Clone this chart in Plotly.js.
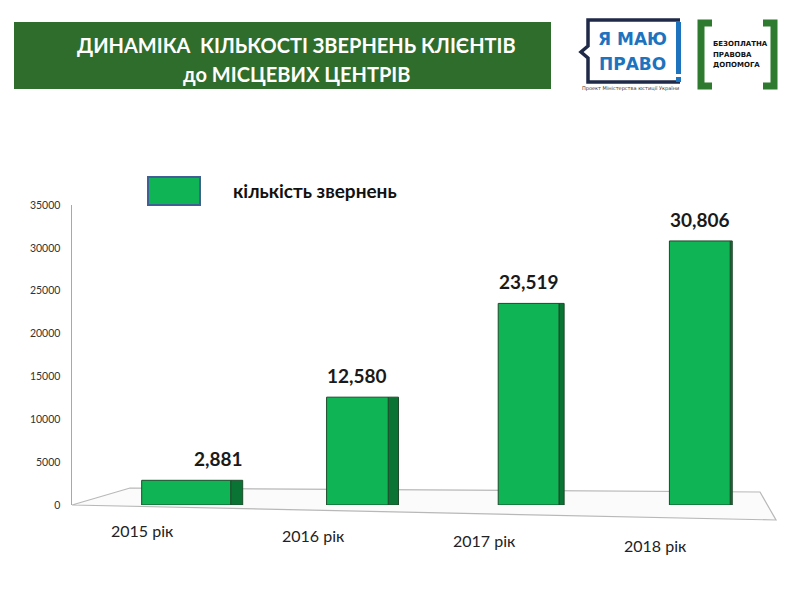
<!DOCTYPE html>
<html>
<head>
<meta charset="utf-8">
<script src="https://cdn.plot.ly/plotly-3.0.1.min.js"></script>
<style>html,body{margin:0;padding:0;background:#fff;}#chart{width:800px;height:600px;}</style>
</head>
<body>
<div id="chart"></div>
<script>
// ---- data ----
const categories = ["2015 рік", "2016 рік", "2017 рік", "2018 рік"];
const values = [2881, 12580, 23519, 30806];
const seriesName = "кількість звернень";
const titleLines = ["ДИНАМІКА  КІЛЬКОСТІ ЗВЕРНЕНЬ КЛІЄНТІВ", "до МІСЦЕВИХ ЦЕНТРІВ"];
const yTicks = [0, 5000, 10000, 15000, 20000, 25000, 30000, 35000];

// ---- layout helpers (pixel -> paper) ----
const L = 72, R = 30, T = 205, B = 95, W = 800, H = 600;
const pw = W - L - R, ph = H - T - B;
const px = p => (p - L) / pw;
const py = p => (H - B - p) / ph;

const idx = categories.map((c, i) => i);
const frontW = [0.52, 0.36, 0.355, 0.355];
const sideW = [0.07, 0.06, 0.03, 0.012];

const front = {
  type: "bar", x: idx, y: values, name: seriesName,
  width: frontW, offset: frontW.map(w => -w / 2),
  marker: { color: "#0fb454", line: { color: "#1d4a2a", width: 1 } },
  hoverinfo: "x+y", showlegend: false
};
const side = {
  type: "bar", x: idx, y: values, name: seriesName + " (side)",
  width: sideW, offset: frontW.map(w => w / 2),
  marker: { color: "#0a7434", line: { color: "#1d4a2a", width: 1 } },
  hoverinfo: "skip", showlegend: false
};

const shapes = [];
const annotations = [];
const A = o => Object.assign({ showarrow: false, xanchor: "center", yanchor: "middle" }, o);

// floor (3D base)
shapes.push({
  type: "path", xref: "paper", yref: "paper", layer: "below",
  path: `M ${px(72)} ${py(505)} L ${px(130)} ${py(488)} L ${px(760)} ${py(492)} L ${px(776)} ${py(520)} Z`,
  fillcolor: "#fbfbfb", line: { color: "#b8b8b8", width: 1.2 }
});

// title banner
shapes.push({ type: "rect", xref: "paper", yref: "paper", x0: px(14), x1: px(551), y0: py(22), y1: py(89),
  fillcolor: "#2e6d2c", line: { width: 0 } });
annotations.push(A({ xref: "paper", yref: "paper", x: px(296), y: py(45), text: "<b>" + titleLines[0] + "</b>",
  font: { family: "Lato, sans-serif", size: 20, color: "#ffffff" } }));
annotations.push(A({ xref: "paper", yref: "paper", x: px(296), y: py(74), text: "<b>" + titleLines[1] + "</b>",
  font: { family: "Lato, sans-serif", size: 20, color: "#ffffff" } }));

// logo 1: "Я МАЮ ПРАВО!"
const navy = "#1e2a48";
shapes.push({ type: "path", xref: "paper", yref: "paper",
  path: `M ${px(680)} ${py(20)} L ${px(588)} ${py(20)} L ${px(588)} ${py(46)} L ${px(581)} ${py(52)} L ${px(588)} ${py(58)} L ${px(588)} ${py(82)} L ${px(680)} ${py(82)}`,
  line: { color: navy, width: 3.5 } });
shapes.push({ type: "rect", xref: "paper", yref: "paper", x0: px(676), x1: px(681), y0: py(22), y1: py(74),
  fillcolor: "#1e73be", line: { width: 0 } });
shapes.push({ type: "rect", xref: "paper", yref: "paper", x0: px(676), x1: px(681), y0: py(77), y1: py(82),
  fillcolor: "#1e73be", line: { width: 0 } });
annotations.push(A({ xref: "paper", yref: "paper", x: px(632), y: py(39), text: "<b>Я МАЮ</b>",
  font: { family: "'DejaVu Sans', sans-serif", size: 17, color: "#1e73be" } }));
annotations.push(A({ xref: "paper", yref: "paper", x: px(632), y: py(64), text: "<b>ПРАВО</b>",
  font: { family: "'DejaVu Sans', sans-serif", size: 17, color: "#1e73be" } }));
annotations.push(A({ xref: "paper", yref: "paper", x: px(630), y: py(88), text: "Проект Міністерства юстиції України",
  font: { family: "'DejaVu Sans', sans-serif", size: 5, color: "#333" } }));

// logo 2: "БЕЗОПЛАТНА ПРАВОВА ДОПОМОГА"
const lg = "#2e7a2e";
shapes.push({ type: "path", xref: "paper", yref: "paper",
  path: `M ${px(712)} ${py(23)} L ${px(701)} ${py(23)} L ${px(701)} ${py(86)} L ${px(712)} ${py(86)}`,
  line: { color: lg, width: 7 } });
shapes.push({ type: "path", xref: "paper", yref: "paper",
  path: `M ${px(763)} ${py(23)} L ${px(774)} ${py(23)} L ${px(774)} ${py(86)} L ${px(763)} ${py(86)}`,
  line: { color: lg, width: 7 } });
["БЕЗОПЛАТНА", "ПРАВОВА", "ДОПОМОГА"].forEach((t, i) => {
  annotations.push(A({ xref: "paper", yref: "paper", x: px(711), y: py(44 + i * 10.5), xanchor: "left",
    text: "<b>" + t + "</b>",
    font: { family: "'DejaVu Sans', sans-serif", size: 7, color: "#111" } }));
});

// legend
shapes.push({ type: "rect", xref: "paper", yref: "paper", x0: px(148), x1: px(200), y0: py(205), y1: py(177),
  fillcolor: "#0fb454", line: { color: "#3f5f95", width: 2 } });
annotations.push(A({ xref: "paper", yref: "paper", x: px(231), y: py(190), xanchor: "left",
  text: "<b>" + seriesName + "</b>",
  font: { family: "Lato, sans-serif", size: 19, color: "#111" } }));

// value labels above bars
const valShiftX = [32, 0, 0, 0];
values.forEach((v, i) => {
  annotations.push(A({ x: i, y: v, xref: "x", yref: "y", yanchor: "bottom", yshift: 8, xshift: valShiftX[i],
    text: "<b>" + v.toLocaleString("en-US") + "</b>",
    font: { family: "Lato, 'Open Sans', sans-serif", size: 19, color: "#1a1a1a" } }));
});

// category labels (perspective offsets)
const labelShiftY = [25, 30, 35, 40];
categories.forEach((c, i) => {
  annotations.push(A({ x: i, xref: "x", yref: "paper", y: 0, xshift: -44,
    yshift: -labelShiftY[i], text: c,
    font: { family: "Lato, sans-serif", size: 16, color: "#222" } }));
});

const layout = {
  width: W, height: H,
  margin: { l: L, r: R, t: T, b: B, pad: 0 },
  paper_bgcolor: "#ffffff", plot_bgcolor: "rgba(0,0,0,0)",
  barmode: "overlay", showlegend: false,
  xaxis: { range: [-0.667, 3.41], showticklabels: false, showgrid: false, zeroline: false,
    showline: false, ticks: "", fixedrange: true },
  yaxis: { range: [0, 35000], tickvals: yTicks, ticktext: yTicks.map(String),
    showgrid: false, zeroline: false, showline: true, linecolor: "#a8a8a8", linewidth: 1.5,
    ticks: "", ticklabelstandoff: 8,
    tickfont: { family: "Lato, sans-serif", size: 10.5, color: "#333" } },
  shapes: shapes, annotations: annotations
};

Plotly.newPlot("chart", [side, front], layout, { displayModeBar: false, staticPlot: true });
</script>
</body>
</html>
